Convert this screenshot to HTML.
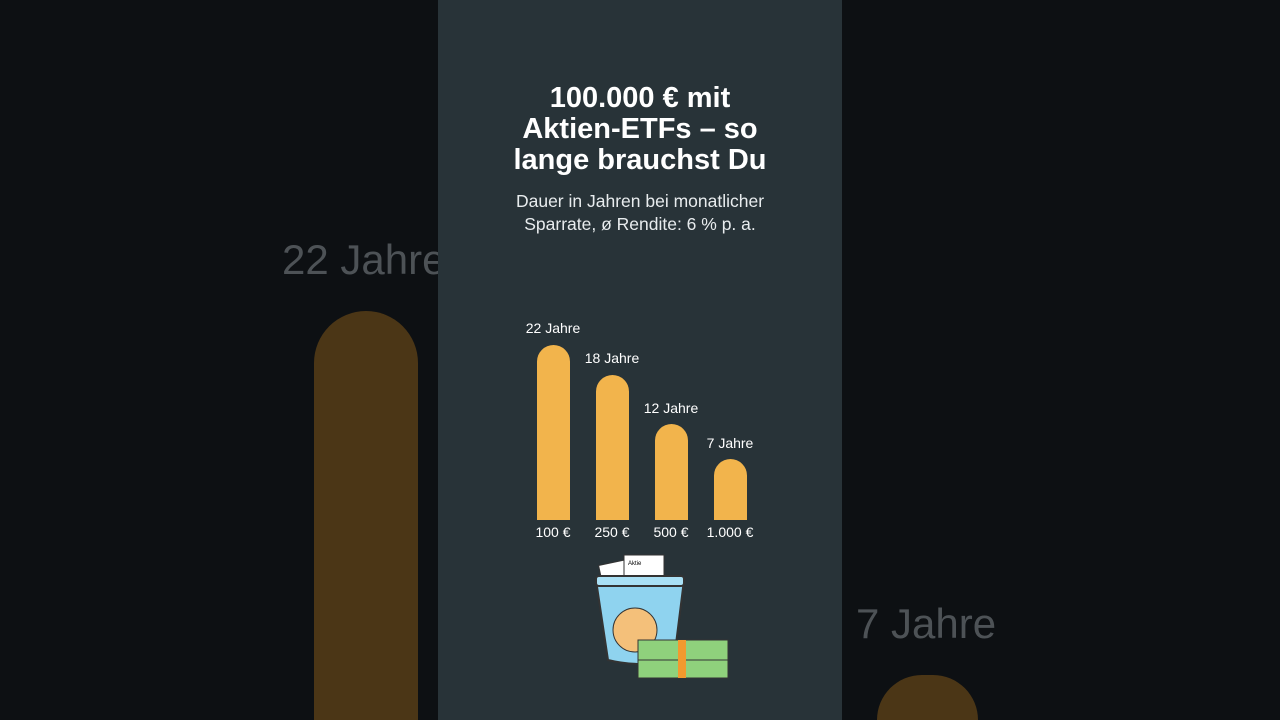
<!DOCTYPE html>
<html style="overflow:hidden;width:1280px;height:720px"><head><meta charset="utf-8"><style>
body{margin:0;width:1280px;height:720px;background:#0d1013;position:relative;overflow:hidden;font-family:"Liberation Sans",sans-serif}
.a{position:absolute}
.panel{left:438px;top:0;width:404px;height:720px;background:#283338}
.t{color:#fff;text-align:center;width:404px;left:438px}
.bar{background:#f2b44c;border-radius:17px 17px 0 0;width:33px}
.lbl{color:#fff;font-size:14px;width:80px;text-align:center}
</style></head><body>
<div class="a" style="left:282px;top:236px;font-size:42px;color:#4d5256">22 Jahre</div>
<div class="a" style="left:314px;top:311px;width:104px;height:409px;background:#4b3616;border-radius:52px 52px 0 0"></div>
<div class="a" style="left:856px;top:600px;font-size:42px;color:#4d5256">7 Jahre</div>
<div class="a" style="left:877px;top:675px;width:101px;height:45px;background:#4b3616;border-radius:50px 50px 0 0"></div>
<div class="a panel"></div>
<div class="a t" style="top:83px;font-size:29px;font-weight:bold;line-height:31px">100.000 € mit<br>Aktien-ETFs – so<br>lange brauchst Du</div>
<div class="a t" style="top:190px;font-size:17.5px;line-height:23px;color:#e8ecee">Dauer in Jahren bei monatlicher<br>Sparrate, ø Rendite: 6 % p. a.</div>
<div class="a bar" style="left:537px;top:345px;height:175px"></div>
<div class="a bar" style="left:596px;top:375px;height:145px"></div>
<div class="a bar" style="left:655px;top:424px;height:96px"></div>
<div class="a bar" style="left:714px;top:459px;height:61px"></div>
<div class="a lbl" style="left:513px;top:320px">22 Jahre</div>
<div class="a lbl" style="left:572px;top:350px">18 Jahre</div>
<div class="a lbl" style="left:631px;top:400px">12 Jahre</div>
<div class="a lbl" style="left:690px;top:435px">7 Jahre</div>
<div class="a lbl" style="left:513px;top:524px">100 €</div>
<div class="a lbl" style="left:572px;top:524px">250 €</div>
<div class="a lbl" style="left:631px;top:524px">500 €</div>
<div class="a lbl" style="left:690px;top:524px">1.000 €</div>
<svg class="a" style="left:590px;top:550px" width="145" height="135">
<rect x="12" y="12" width="30" height="35" fill="#fff" stroke="#333" transform="rotate(-12 27 30)"/>
<rect x="34" y="5" width="40" height="40" fill="#fff" stroke="#333"/>
<text x="38" y="15" font-size="6" font-family="Liberation Sans">Aktie</text>
<path d="M6 30 L94 30 L84 110 Q50 118 18 110 Z" fill="#8fd3ef" stroke="#333" stroke-width="2"/>
<rect x="6" y="26" width="88" height="10" rx="3" fill="#a9e0f5" stroke="#333" stroke-width="2"/>
<circle cx="45" cy="80" r="22" fill="#f4c07a" stroke="#333"/>
<rect x="48" y="90" width="90" height="20" fill="#8fd17c" stroke="#333"/>
<rect x="48" y="110" width="90" height="18" fill="#8fd17c" stroke="#333"/>
<rect x="88" y="90" width="8" height="38" fill="#f29a2e"/>
</svg>
</body></html>
